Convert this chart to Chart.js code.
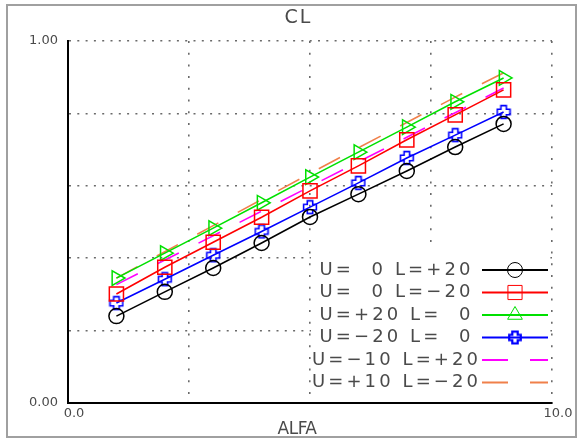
<!DOCTYPE html>
<html>
<head>
<meta charset="utf-8">
<title>CL vs ALFA</title>
<script src="https://cdn.jsdelivr.net/npm/chart.js@4.4.1/dist/chart.umd.min.js"></script>
<style>
    html, body { margin: 0; padding: 0; background: #fff; }
    canvas { display: block; }
</style>
</head>
<body>
<canvas id="cl" width="581" height="439"></canvas>
<script>
// angle of attack
const alfa = [1, 2, 3, 4, 5, 6, 7, 8, 9];

// CL per deflection case
const clU0Lp20 = [0.240, 0.307, 0.373, 0.442, 0.514, 0.577, 0.641, 0.707, 0.771];
const clU0Lm20 = [0.301, 0.375, 0.444, 0.513, 0.586, 0.655, 0.727, 0.796, 0.865];
const clUp20L0 = [0.345, 0.414, 0.483, 0.553, 0.624, 0.693, 0.762, 0.832, 0.898];
const clUm20L0 = [0.276, 0.342, 0.408, 0.474, 0.541, 0.608, 0.677, 0.740, 0.804];
const clUm10Lp20 = [0.327, 0.395, 0.462, 0.530, 0.598, 0.666, 0.734, 0.802, 0.870];
const clUp10Lm20 = [0.345, 0.418, 0.490, 0.562, 0.634, 0.705, 0.775, 0.845, 0.912];

const seriesLabels = [
    'U=  0 L=+20',
    'U=  0 L=\u221220',
    'U=+20 L=  0',
    'U=\u221220 L=  0',
    'U=\u221210 L=+20',
    'U=+10 L=\u221220'
];

// only the ends of each axis carry a label
const xTickLabels = { 0: '0.0', 10: '10.0' };
const yTickLabels = { 0: '0.00', 1: '1.00' };

const textColor = '#4a4a4a';
const fontFamily = '"DejaVu Sans", Verdana, sans-serif';

function toPoints(values) {
    return values.map((v, i) => ({ x: alfa[i], y: v }));
}

// outlined fat plus, the marker of the U=-20 case
function plusMarker(color, size, lw) {
    const c = document.createElement('canvas');
    c.width = c.height = size;
    const g = c.getContext('2d');
    const m = size / 2, a = 2.7, e = size / 2 - lw;
    g.beginPath();
    g.moveTo(m - a, m - e); g.lineTo(m + a, m - e); g.lineTo(m + a, m - a);
    g.lineTo(m + e, m - a); g.lineTo(m + e, m + a); g.lineTo(m + a, m + a);
    g.lineTo(m + a, m + e); g.lineTo(m - a, m + e); g.lineTo(m - a, m + a);
    g.lineTo(m - e, m + a); g.lineTo(m - e, m - a); g.lineTo(m - a, m - a);
    g.closePath();
    g.strokeStyle = color;
    g.lineWidth = lw;
    g.stroke();
    return c;
}

const plusBlue = plusMarker('#0000ff', 16, 1.6);
const plusBlueLegend = plusMarker('#0000ff', 16, 2.2);

const datasets = [
    { label: seriesLabels[0], data: toPoints(clU0Lp20), borderColor: '#000000',
      pointStyle: 'circle', pointRadius: 7.5, pointRotation: 0 },
    { label: seriesLabels[1], data: toPoints(clU0Lm20), borderColor: '#ff0000',
      pointStyle: 'rect', pointRadius: 10, pointRotation: 0 },
    { label: seriesLabels[2], data: toPoints(clUp20L0), borderColor: '#00e000',
      pointStyle: 'triangle', pointRadius: 8.5, pointRotation: 90 },
    { label: seriesLabels[3], data: toPoints(clUm20L0), borderColor: '#0000ff',
      pointStyle: plusBlue, pointRadius: 7, pointRotation: 0 },
    { label: seriesLabels[4], data: toPoints(clUm10Lp20), borderColor: '#ff00ff',
      pointRadius: 0, borderDash: [24, 22] },
    { label: seriesLabels[5], data: toPoints(clUp10Lm20), borderColor: '#f0804a',
      pointRadius: 0, borderDash: [24, 22] }
].map(ds => ({
    borderWidth: 1.6,
    pointBorderColor: ds.borderColor,
    pointBackgroundColor: 'rgba(0,0,0,0)',
    pointBorderWidth: 1.5,
    tension: 0,
    ...ds
}));

const legendMarkers = [
    { pointStyle: 'circle', radius: 7.5, rotation: 0 },
    { pointStyle: 'rect', radius: 10, rotation: 0 },
    { pointStyle: 'triangle', radius: 8.5, rotation: 0 },
    { pointStyle: plusBlueLegend, radius: 7, rotation: 0 },
    null,
    null
];

// frame, title, axis name and the boxed legend inside the plot
const decorPlugin = {
    id: 'decor',
    beforeDraw(chart) {
        const ctx = chart.ctx;
        ctx.save();
        ctx.strokeStyle = '#a0a0a0';
        ctx.lineWidth = 2;
        ctx.strokeRect(7, 5, 569, 432);
        ctx.restore();
    },
    afterDraw(chart) {
        const ctx = chart.ctx;
        ctx.save();
        ctx.fillStyle = textColor;
        ctx.textBaseline = 'middle';
        ctx.textAlign = 'center';

        ctx.font = '19px ' + fontFamily;
        ctx.letterSpacing = '2px';
        ctx.fillText('CL', 298.5, 18);

        ctx.font = '17px ' + fontFamily;
        ctx.letterSpacing = '-0.5px';
        ctx.fillText('ALFA', 297, 430);

        // legend
        ctx.fillStyle = '#ffffff';
        ctx.fillRect(311, 250, 238, 148);

        const rowY = [270, 292.5, 315, 337.5, 360, 382.5];
        const ls = 3.1;
        ctx.font = '18px ' + fontFamily;
        ctx.letterSpacing = ls + 'px';
        ctx.textAlign = 'left';
        chart.data.datasets.forEach((ds, i) => {
            const y = rowY[i];
            const w = ctx.measureText(ds.label).width - ls;
            ctx.fillStyle = textColor;
            ctx.fillText(ds.label, 395 - w / 2, y);

            ctx.save();
            ctx.strokeStyle = ds.borderColor;
            ctx.lineWidth = 1.8;
            ctx.setLineDash(ds.borderDash ? [26, 22] : []);
            ctx.beginPath();
            ctx.moveTo(482, y);
            ctx.lineTo(548, y);
            ctx.stroke();
            ctx.restore();

            const mk = legendMarkers[i];
            if (mk) {
                ctx.save();
                ctx.strokeStyle = ds.borderColor;
                ctx.fillStyle = 'rgba(0,0,0,0)';
                Chart.helpers.drawPoint(ctx, {
                    pointStyle: mk.pointStyle,
                    radius: mk.radius,
                    rotation: mk.rotation,
                    borderWidth: 1.5
                }, 515, y);
                ctx.restore();
            }
        });
        ctx.restore();
    }
};

new Chart(document.getElementById('cl'), {
    type: 'line',
    data: { datasets },
    options: {
        responsive: false,
        animation: false,
        devicePixelRatio: 1,
        layout: { padding: { left: 0, right: 29, top: 41, bottom: 0 } },
        plugins: {
            legend: { display: false },
            tooltip: { enabled: false },
            title: { display: false }
        },
        scales: {
            x: {
                type: 'linear',
                min: 0,
                max: 10,
                afterFit: scale => { scale.height = 36; },
                ticks: {
                    stepSize: 2.5,
                    autoSkip: false,
                    maxRotation: 0,
                    padding: 3,
                    labelOffset: 6,
                    color: textColor,
                    font: { family: fontFamily, size: 13 },
                    callback: v => xTickLabels[v] || ''
                },
                grid: { color: '#6a6a6a', lineWidth: 1.6, drawTicks: false },
                border: { display: true, color: '#000', width: 2, dash: [2, 9.7] }
            },
            y: {
                min: 0,
                max: 1,
                afterFit: scale => { scale.width = 68; },
                ticks: {
                    stepSize: 0.2,
                    autoSkip: false,
                    padding: 10,
                    color: textColor,
                    font: { family: fontFamily, size: 13 },
                    callback: v => yTickLabels[Math.round(v * 100) / 100] || ''
                },
                grid: { color: '#6a6a6a', lineWidth: 1.6, drawTicks: false },
                border: { display: true, color: '#000', width: 2, dash: [2, 6.3] }
            }
        }
    },
    plugins: [decorPlugin]
});
</script>
</body>
</html>
